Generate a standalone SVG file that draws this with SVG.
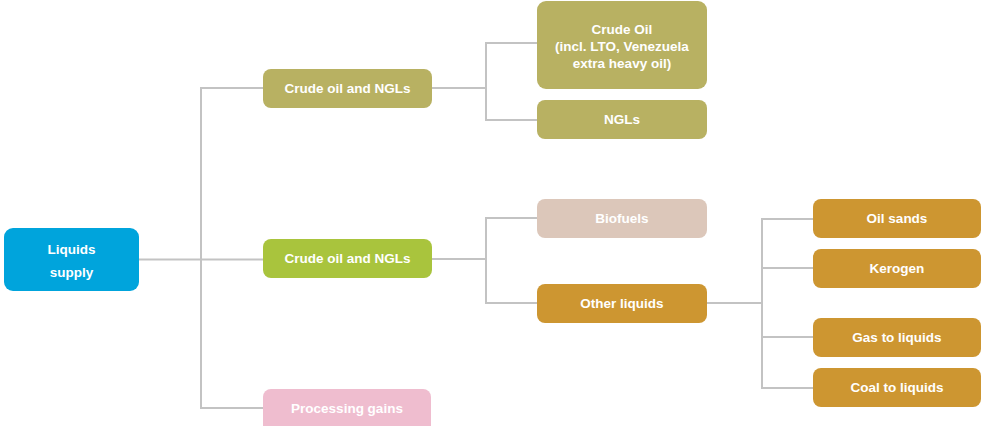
<svg xmlns="http://www.w3.org/2000/svg" width="981" height="426" viewBox="0 0 981 426">
<style>
.c{fill:none;stroke:#c3c3c3;stroke-width:2}
.t{font-family:"Liberation Sans",Arial,sans-serif;font-weight:bold;font-size:13.5px;fill:#ffffff;text-anchor:middle;dominant-baseline:central}
.olive{fill:#b8b162}
.green{fill:#a9c43d}
.blue{fill:#00a4dc}
.beige{fill:#dcc7ba}
.gold{fill:#cd9631}
.pink{fill:#efbdcf}
</style>
<rect width="981" height="426" fill="#ffffff"/>
<g id="connectors">
<path class="c" d="M139 259.5H263"/>
<path class="c" d="M263 88H201V408H263"/>
<path class="c" d="M432 88H486"/>
<path class="c" d="M537 43H486V120H537"/>
<path class="c" d="M432 259H486"/>
<path class="c" d="M537 218H486V303H537"/>
<path class="c" d="M707 303H762"/>
<path class="c" d="M813 219H762V388H813"/>
<path class="c" d="M762 268H813"/>
<path class="c" d="M762 337H813"/>
</g>
<g id="liquids-supply">
<rect class="blue" x="4" y="228" width="135" height="63" rx="9"/>
<text class="t" x="71.5" y="249">Liquids</text>
<text class="t" x="71.5" y="272">supply</text>
</g>
<g id="crude-oil-ngls-1">
<rect class="olive" x="263" y="69" width="169" height="39" rx="8"/>
<text class="t" x="347.5" y="88.5">Crude oil and NGLs</text>
</g>
<g id="crude-oil">
<rect class="olive" x="537" y="1" width="170" height="88" rx="9"/>
<text class="t" x="622" y="29">Crude Oil</text>
<text class="t" x="622" y="46">(incl. LTO, Venezuela</text>
<text class="t" x="622" y="63">extra heavy oil)</text>
</g>
<g id="ngls">
<rect class="olive" x="537" y="100" width="170" height="39" rx="8"/>
<text class="t" x="622" y="119.5">NGLs</text>
</g>
<g id="crude-oil-ngls-2">
<rect class="green" x="263" y="239" width="169" height="39" rx="8"/>
<text class="t" x="347.5" y="258.5">Crude oil and NGLs</text>
</g>
<g id="biofuels">
<rect class="beige" x="537" y="199" width="170" height="39" rx="8"/>
<text class="t" x="622" y="218.5">Biofuels</text>
</g>
<g id="other-liquids">
<rect class="gold" x="537" y="284" width="170" height="39" rx="8"/>
<text class="t" x="622" y="303.5">Other liquids</text>
</g>
<g id="oil-sands">
<rect class="gold" x="813" y="199" width="168" height="39" rx="8"/>
<text class="t" x="897" y="218.5">Oil sands</text>
</g>
<g id="kerogen">
<rect class="gold" x="813" y="249" width="168" height="39" rx="8"/>
<text class="t" x="897" y="268.5">Kerogen</text>
</g>
<g id="gas-to-liquids">
<rect class="gold" x="813" y="318" width="168" height="39" rx="8"/>
<text class="t" x="897" y="337.5">Gas to liquids</text>
</g>
<g id="coal-to-liquids">
<rect class="gold" x="813" y="368" width="168" height="39" rx="8"/>
<text class="t" x="897" y="387.5">Coal to liquids</text>
</g>
<g id="processing-gains">
<rect class="pink" x="263" y="389" width="168" height="45" rx="8"/>
<text class="t" x="347" y="408.5">Processing gains</text>
</g>
</svg>
